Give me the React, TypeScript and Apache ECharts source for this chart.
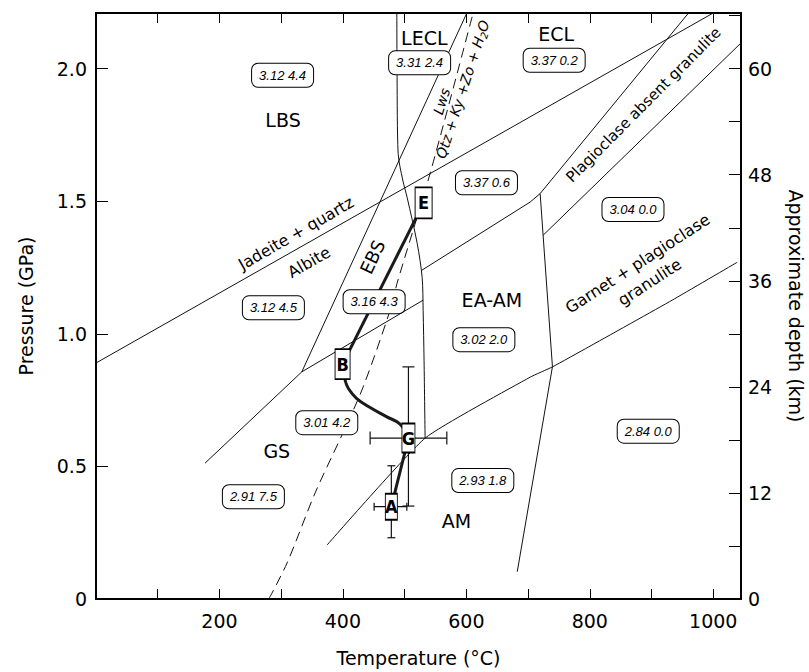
import React, { useEffect, useRef } from "react";
import * as echarts from "echarts";

// ---------- axes ----------
const T_MIN = 0;
const T_MAX = 1045;
const T_STEP = 100;
const P_MIN = 0;
const P_MAX = 2.21;
const P_STEP = 0.5;
const KM_PER_GPA = 30;
const DEPTH_STEP = 6;
const tempTickLabels = [200, 400, 600, 800, 1000];
const pressureTickLabels = [0, 0.5, 1.0, 1.5, 2.0];
const depthTickLabels = [0, 12, 24, 36, 48, 60];

// ---------- phase boundaries, [T (°C), P (GPa)] ----------
const jadeiteAlbite = [[0, 0.89], [1000, 2.21]];
const plagAbsentUpper = [[719.6, 1.529], [960, 2.21]];
const plagAbsentLower = [[724.5, 1.372], [1045, 2.097]];
const eaamUpper = [[527.9, 1.24], [703.4, 1.497], [719.6, 1.529]];
const eaamGranulite = [[719.6, 1.529], [739.5, 0.876], [682.5, 0.103]];
const amUpper = [
  [374.4, 0.2035], [533.2, 0.6067], [703.4, 0.8366], [739.5, 0.8754],
  [797.4, 0.9497], [933.5, 1.127], [1038.9, 1.27],
];
const gsUpper = [[176.7, 0.5125], [333.4, 0.8566]];
const ebsLeft = [[333.4, 0.8566], [600.8, 2.21]];
const gsEbs = [[333.4, 0.8566], [530, 1.127]];
const ebsEaamCurve = [
  [487.4, 2.21], [487.8, 1.967], [489.5, 1.681], [497, 1.58], [504, 1.515],
  [520.3, 1.342], [528.4, 1.213], [530, 1.089], [531.5, 0.9], [533.2, 0.6067],
];
const lawsoniteReaction = [
  [280, 0], [309.6, 0.136], [355, 0.4], [400, 0.626], [432.7, 0.799],
  [476.5, 1.089], [487.8, 1.191], [541.3, 1.605], [611, 2.21],
];

// ---------- P-T path ----------
const pathEB = [[530.8, 1.494], [399.5, 0.8856]];
const pathBG = [
  [399.5, 0.8856], [403.6, 0.825], [408.9, 0.794], [422.5, 0.756],
  [444.1, 0.722], [471.2, 0.687], [492.7, 0.6595], [506.2, 0.607],
];
const pathGA = [[506.2, 0.607], [478.5, 0.348]];
const pathPoints: [string, number, number][] = [
  ["E", 530.8, 1.494],
  ["B", 399.5, 0.8856],
  ["G", 506.2, 0.607],
  ["A", 478.5, 0.348],
];
// [T, P, Tmin, Tmax, Pmin, Pmax]
const errorBars = [
  [506.2, 0.607, 444.1, 568.4, 0.3505, 0.8754],
  [478.5, 0.348, 450.6, 503.6, 0.231, 0.5024],
];

// ---------- boxed values ----------
const boxLabels: [string, number, number][] = [
  ["3.12 4.4", 302.3, 1.975],
  ["3.31 2.4", 524.3, 2.022],
  ["3.37 0.2", 742.3, 2.032],
  ["3.37 0.6", 632.6, 1.57],
  ["3.04 0.0", 870, 1.469],
  ["3.12 4.5", 287.4, 1.098],
  ["3.16 4.3", 450.6, 1.121],
  ["3.02 2.0", 628.4, 0.978],
  ["3.01 4.2", 373.9, 0.665],
  ["2.91 7.5", 255, 0.3855],
  ["2.93 1.8", 626.7, 0.4466],
  ["2.84 0.0", 894.7, 0.633],
];

// ---------- field names ----------
const regionLabels: [string, number, number][] = [
  ["LBS", 303, 1.805],
  ["LECL", 531.9, 2.116],
  ["ECL", 745.5, 2.132],
  ["EA-AM", 641.3, 1.127],
  ["GS", 292.9, 0.557],
  ["AM", 584, 0.295],
];
const slantedLabels: [string, number, number][] = [
  ["EBS", 448, 1.29],
  ["Jadeite + quartz", 324.1, 1.379],
  ["Albite", 345.2, 1.27],
  ["Lws", 560, 1.877],
  ["Qtz + Ky +Zo + H2O", 594, 1.922],
  ["Plagioclase absent granulite", 887, 1.864],
  ["Garnet + plagioclase\ngranulite", 887.3, 1.23],
];

// ---------- styles ----------
const FONT = "DejaVu Sans, Liberation Sans, sans-serif";
const BOX_FONT = "Liberation Sans, Arial, sans-serif";
const LETTER_FONT = "Liberation Sans Narrow, DejaVu Sans Condensed, Liberation Sans, sans-serif";
const INK = "#000";
const LINE = "#111";

const slantStyle: Record<string, any> = {
  EBS: { rotate: 65, fontSize: 18 },
  "Jadeite + quartz": { rotate: 30, fontSize: 16 },
  Albite: { rotate: 30, fontSize: 16 },
  Lws: { rotate: 73, fontSize: 14, fontStyle: "italic" },
  "Qtz + Ky +Zo + H2O": { rotate: 72, fontSize: 14, fontStyle: "italic" },
  "Plagioclase absent granulite": { rotate: 45, fontSize: 15 },
  "Garnet + plagioclase\ngranulite": { rotate: 33, fontSize: 16, lineHeight: 22 },
};
const boxSizes: Record<string, number[]> = {
  E: [17, 31],
  B: [15, 30],
  G: [13, 29],
  A: [12, 26],
};
const capHalf = [
  { h: 6.5, v: 6 },
  { h: 4, v: 4 },
];

const near = (a: number, b: number) => Math.abs(a - b) < 1e-6;
const HIDDEN_ITEM = { color: "rgba(0,0,0,0)", opacity: 1 };

function boundary(data: number[][], opts: any = {}) {
  return {
    type: "line",
    data,
    symbol: "none",
    silent: true,
    z: 3,
    lineStyle: { color: LINE, width: 1, opacity: 1, ...(opts.lineStyle || {}) },
    smooth: opts.smooth || false,
  };
}

function textSeries(data: any[], label: any, z = 10) {
  return {
    type: "scatter",
    silent: true,
    z,
    symbolSize: 1,
    itemStyle: HIDDEN_ITEM,
    emphasis: { disabled: true },
    data,
    label: { show: true, position: "inside", opacity: 1, color: INK, ...label },
  };
}

function buildOption() {
  const series: any[] = [
    boundary(jadeiteAlbite),
    boundary(plagAbsentUpper),
    boundary(plagAbsentLower),
    boundary(eaamUpper),
    boundary(eaamGranulite),
    boundary(amUpper, { smooth: 0.15 }),
    boundary(gsUpper),
    boundary(ebsLeft),
    boundary(gsEbs),
    boundary(ebsEaamCurve, { smooth: 0.3 }),
    boundary(lawsoniteReaction, { smooth: 0.3, lineStyle: { type: [10, 6] } }),
    // P-T path
    ...[pathEB, pathBG, pathGA].map((d, i) => ({
      type: "line",
      data: d,
      symbol: "none",
      silent: true,
      z: 6,
      smooth: i === 1 ? 0.4 : false,
      lineStyle: { color: "#1a1a1a", width: 3, opacity: 1 },
    })),
    // error bars
    {
      type: "custom",
      silent: true,
      z: 7,
      data: errorBars,
      renderItem: (params: any, api: any) => {
        const t = api.value(0);
        const p = api.value(1);
        const L = api.coord([api.value(2), p]);
        const R = api.coord([api.value(3), p]);
        const B = api.coord([t, api.value(4)]);
        const T = api.coord([t, api.value(5)]);
        const cap = capHalf[params.dataIndex];
        const st = { stroke: "#111", lineWidth: 1.2 };
        const ln = (x1: number, y1: number, x2: number, y2: number) => ({
          type: "line",
          shape: { x1, y1, x2, y2 },
          style: st,
        });
        return {
          type: "group",
          children: [
            ln(L[0], L[1], R[0], R[1]),
            ln(L[0], L[1] - cap.h, L[0], L[1] + cap.h),
            ln(R[0], R[1] - cap.h, R[0], R[1] + cap.h),
            ln(B[0], B[1], T[0], T[1]),
            ln(B[0] - cap.v, B[1], B[0] + cap.v, B[1]),
            ln(T[0] - cap.v, T[1], T[0] + cap.v, T[1]),
          ],
        };
      },
    },
    // path points
    {
      type: "scatter",
      silent: true,
      z: 8,
      symbol: "rect",
      emphasis: { disabled: true },
      data: pathPoints.map(([n, t, p]) => ({
        name: n,
        value: [t, p],
        symbolSize: boxSizes[n],
      })),
      itemStyle: { color: "#fff", borderColor: "#000", borderWidth: 1.3, opacity: 1 },
      label: {
        show: true,
        position: "inside",
        formatter: "{b}",
        color: INK,
        opacity: 1,
        fontFamily: LETTER_FONT,
        fontWeight: "bold",
        fontSize: 18,
      },
    },
    // boxed values
    textSeries(
      boxLabels.map(([s, t, p]) => ({ name: s, value: [t, p] })),
      {
        formatter: "{b}",
        fontFamily: BOX_FONT,
        fontStyle: "italic",
        fontSize: 13,
        lineHeight: 13,
        backgroundColor: "#fff",
        borderColor: "#000",
        borderWidth: 1,
        borderRadius: 6,
        padding: [5, 7, 5, 7],
      }
    ),
    // region names
    textSeries(
      regionLabels.map(([s, t, p]) => ({ name: s, value: [t, p] })),
      { formatter: "{b}", fontFamily: FONT, fontSize: 19 }
    ),
    // slanted names
    ...slantedLabels.map(([s, t, p]) => {
      const st = slantStyle[s];
      const isH2O = s.indexOf("H2O") >= 0;
      return textSeries([{ name: s, value: [t, p] }], {
        formatter: isH2O ? "{i|Qtz + Ky +Zo + H}{s|2}{i|O}" : "{b}",
        fontFamily: FONT,
        fontSize: st.fontSize,
        fontStyle: st.fontStyle || "normal",
        rotate: st.rotate,
        lineHeight: st.lineHeight || st.fontSize + 2,
        align: "center",
        rich: isH2O
          ? {
              i: { fontFamily: FONT, fontSize: 14, fontStyle: "italic", color: INK, lineHeight: 18 },
              s: { fontFamily: FONT, fontSize: 10, fontStyle: "italic", color: INK, lineHeight: 12, verticalAlign: "bottom" },
            }
          : undefined,
      });
    }),
  ];

  const axisLine = { show: true, onZero: false, lineStyle: { color: INK, width: 2 } };
  const tickStyle = { color: INK, width: 1 };
  const labelStyle = { color: INK, fontFamily: FONT, fontSize: 19 };
  const nameStyle = { color: INK, fontFamily: FONT, fontSize: 19 };

  return {
    animation: false,
    backgroundColor: "#fff",
    grid: { left: 96, right: 68, top: 13, bottom: 73, containLabel: false, outerBoundsMode: "none" },
    xAxis: [
      {
        type: "value",
        position: "bottom",
        min: T_MIN,
        max: T_MAX,
        interval: T_STEP,
        axisLine,
        axisTick: { show: true, inside: true, length: 10, lineStyle: tickStyle },
        axisLabel: {
          ...labelStyle,
          margin: 12,
          formatter: (v: number) => (tempTickLabels.some((x) => near(x, v)) ? String(v) : ""),
        },
        splitLine: { show: false },
        name: "Temperature (°C)",
        nameLocation: "middle",
        nameGap: 49,
        nameMoveOverlap: false,
        nameTextStyle: nameStyle,
      },
      {
        type: "value",
        position: "top",
        min: T_MIN,
        max: T_MAX,
        interval: T_STEP,
        axisLine,
        axisTick: { show: true, inside: true, length: 10, lineStyle: tickStyle },
        axisLabel: { show: false },
        splitLine: { show: false },
      },
    ],
    yAxis: [
      {
        type: "value",
        position: "left",
        min: P_MIN,
        max: P_MAX,
        interval: P_STEP,
        axisLine,
        axisTick: { show: true, inside: true, length: 12, lineStyle: tickStyle },
        axisLabel: {
          ...labelStyle,
          margin: 9,
          formatter: (v: number) => {
            if (!pressureTickLabels.some((x) => near(x, v))) return "";
            return near(v, 0) ? "0" : v.toFixed(1);
          },
        },
        splitLine: { show: false },
        name: "Pressure (GPa)",
        nameLocation: "middle",
        nameGap: 61,
        nameRotate: 90,
        nameMoveOverlap: false,
        nameTextStyle: nameStyle,
      },
      {
        type: "value",
        position: "right",
        min: P_MIN * KM_PER_GPA,
        max: P_MAX * KM_PER_GPA,
        interval: DEPTH_STEP,
        axisLine,
        axisTick: { show: true, inside: true, length: 12, lineStyle: tickStyle },
        axisLabel: {
          ...labelStyle,
          margin: 7,
          formatter: (v: number) => (depthTickLabels.some((x) => near(x, v)) ? String(Math.round(v)) : ""),
        },
        splitLine: { show: false },
        name: "Approximate depth (km)",
        nameLocation: "middle",
        nameGap: 45,
        nameRotate: -90,
        nameMoveOverlap: false,
        nameTextStyle: nameStyle,
      },
    ],
    series,
  };
}

export default function App() {
  const ref = useRef<HTMLDivElement>(null);
  useEffect(() => {
    if (!ref.current) return;
    const chart = echarts.init(ref.current, undefined, { renderer: "svg" });
    chart.setOption(buildOption() as any);
    return () => chart.dispose();
  }, []);
  return (
    <div
      ref={ref}
      style={{ position: "absolute", left: 0, top: 0, width: 809, height: 672, background: "#fff" }}
    />
  );
}
